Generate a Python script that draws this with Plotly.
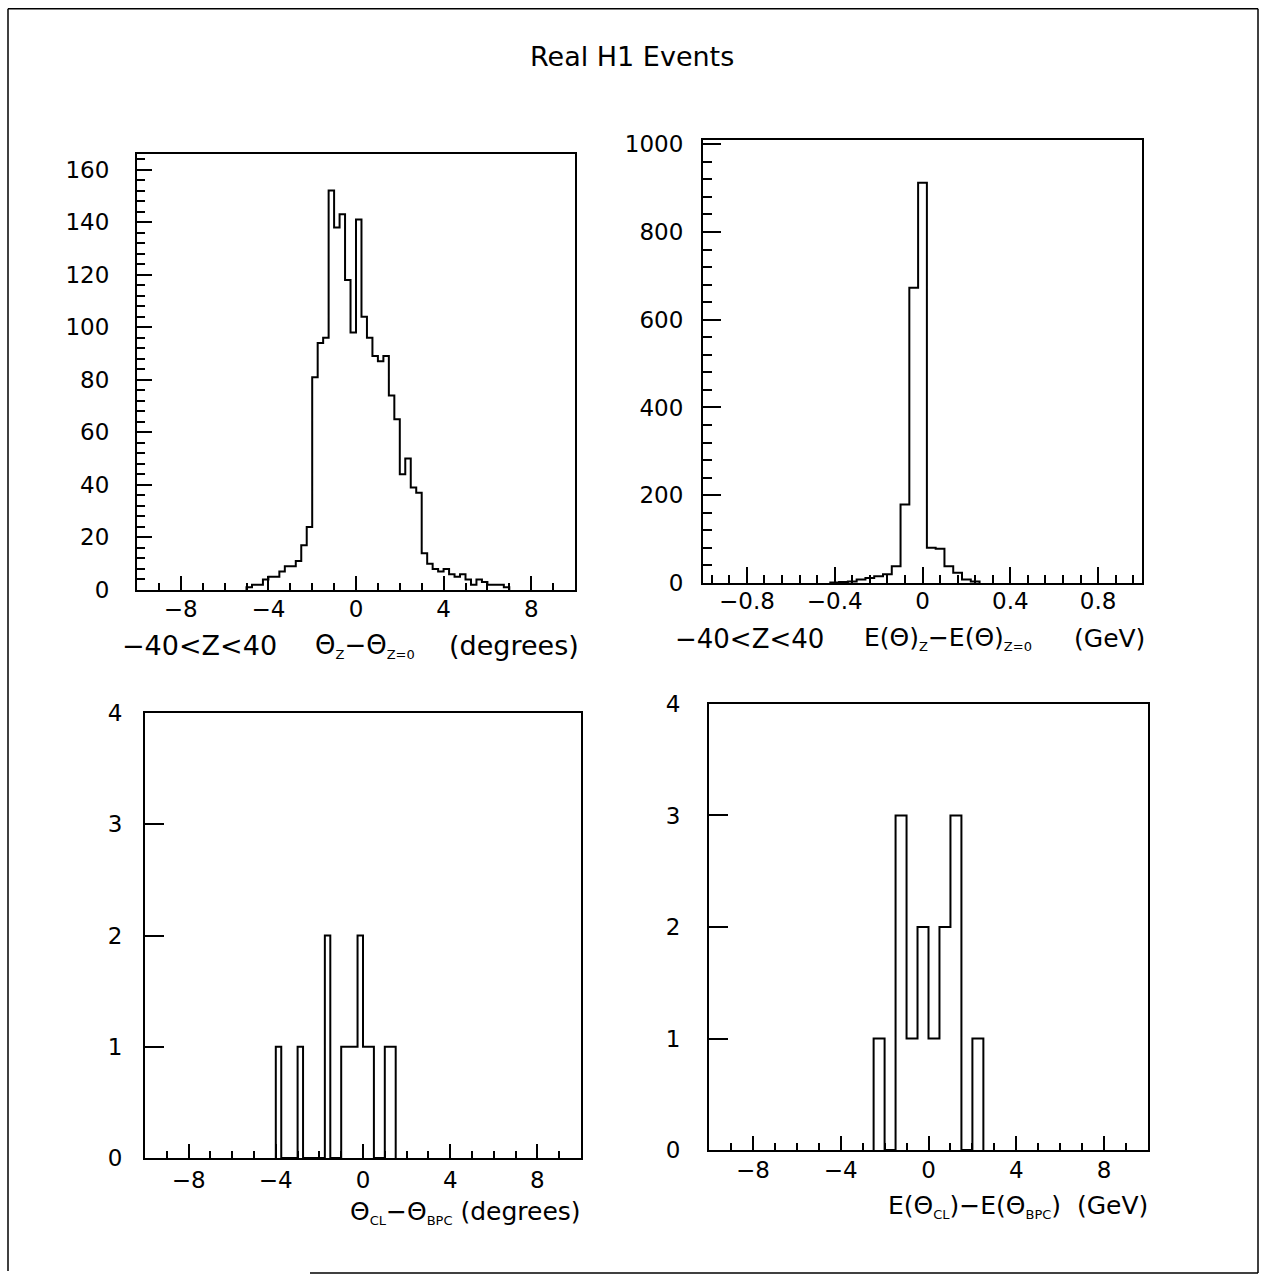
import plotly.graph_objects as go

W, H = 1266, 1277

# ---------------- data ----------------
# Top-left: theta_z - theta_z0 (degrees), bin width 0.25 starting at -5.0
tl_start, tl_width = -5.0, 0.25
tl_counts = [1, 2, 2, 4, 5, 5, 7, 9, 9, 11, 17, 24,
             81, 94, 96, 152, 138, 143, 118, 98, 141, 104, 96, 89,
             87, 89, 74, 65, 44, 50, 39, 37, 14, 10, 8, 7,
             8, 6, 5, 6, 4, 2, 4, 3, 2, 2, 2, 1]

# Top-right: E(theta)_z - E(theta)_z0 (GeV), bin width 0.04 starting at -0.42
tr_start, tr_width = -0.42, 0.04
tr_counts = [1, 2, 3, 8, 11, 15, 20, 38, 179, 673, 912, 80, 78, 38, 23, 8, 3]

# Bottom-left: theta_CL - theta_BPC (degrees), bin width 0.25 starting at -4.0
bl_start, bl_width = -4.0, 0.25
bl_counts = [1, 0, 0, 0, 1, 0, 0, 0, 0, 2, 0, 0, 1, 1, 1, 2, 1, 1, 0, 0, 1, 1]

# Bottom-right: E(theta_CL) - E(theta_BPC) (GeV), bin width 0.5 starting at -2.5
br_start, br_width = -2.5, 0.5
br_counts = [1, 0, 3, 1, 2, 1, 2, 3, 0, 1]

title_text = "Real H1 Events"
tl_ticks = [0, 20, 40, 60, 80, 100, 120, 140, 160]
tr_ticks = [0, 200, 400, 600, 800, 1000]
b_ticks = [0, 1, 2, 3, 4]

FONT = "DejaVu Sans"


def step_xy(start, width, counts):
    edges = [start + i * width for i in range(len(counts) + 1)]
    xs = [edges[0]] + edges
    ys = [0] + list(counts) + [0]
    return xs, ys


def px(xp):
    return xp / W


# vertical placement calibrated against the rendered page
VA, VB = 12.2, 0.9794


def py(yp):
    return 1 - ((yp - VA) / VB) / H


fig = go.Figure()

panels = [
    ("", step_xy(tl_start, tl_width, tl_counts)),
    ("2", step_xy(tr_start, tr_width, tr_counts)),
    ("3", step_xy(bl_start, bl_width, bl_counts)),
    ("4", step_xy(br_start, br_width, br_counts)),
]

for name, (xs, ys) in panels:
    fig.add_trace(go.Scatter(x=xs, y=ys, mode="lines", line_shape="hv",
                             line=dict(color="black", width=2),
                             xaxis="x" + name, yaxis="y" + name,
                             showlegend=False, hoverinfo="skip"))

tickfont = dict(family=FONT, size=23, color="black")
common = dict(showline=True, linecolor="black", linewidth=2, mirror=True,
              ticks="inside", tickcolor="black", tickwidth=1.5,
              showgrid=False, zeroline=False, tickfont=tickfont)


def minor(dt, ln):
    return dict(dtick=dt, tick0=0, ticklen=ln, ticks="inside",
                tickcolor="black", tickwidth=1.5, showgrid=False)


layout = dict(width=W, height=H, margin=dict(l=0, r=0, t=0, b=0),
              paper_bgcolor="white", plot_bgcolor="white", showlegend=False)

# top-left
layout["xaxis"] = dict(common, domain=[px(137), px(575)], range=[-10, 10],
                       anchor="y", tickmode="array", tickvals=[-8, -4, 0, 4, 8],
                       ticklen=14, ticklabelstandoff=-3, minor=minor(1, 7))
layout["yaxis"] = dict(common, domain=[py(589), py(153)], range=[0, 166],
                       anchor="x", tickmode="array", tickvals=tl_ticks,
                       ticklen=15, ticklabelstandoff=21, minor=minor(4, 8))
# top-right
layout["xaxis2"] = dict(common, domain=[px(703), px(1142)], range=[-1, 1],
                        anchor="y2", tickmode="array", tickvals=[-0.8, -0.4, 0, 0.4, 0.8],
                        ticktext=["\u22120.8", "\u22120.4", "0", "0.4", "0.8"],
                        ticklen=16, ticklabelstandoff=-4, minor=minor(0.08, 8))
layout["yaxis2"] = dict(common, domain=[py(582), py(139)], range=[0, 1010],
                        anchor="x2", tickmode="array", tickvals=tr_ticks,
                        ticklen=18, ticklabelstandoff=13, minor=minor(40, 9))
# bottom-left
layout["xaxis3"] = dict(common, domain=[px(145), px(581)], range=[-10, 10],
                        anchor="y3", tickmode="array", tickvals=[-8, -4, 0, 4, 8],
                        ticklen=14, ticklabelstandoff=0, minor=minor(1, 7))
layout["yaxis3"] = dict(common, domain=[py(1157), py(712)], range=[0, 4],
                        anchor="x3", tickmode="array", tickvals=b_ticks,
                        ticklen=19, ticklabelstandoff=16)
# bottom-right
layout["xaxis4"] = dict(common, domain=[px(709), px(1148)], range=[-10, 10],
                        anchor="y4", tickmode="array", tickvals=[-8, -4, 0, 4, 8],
                        ticklen=14, ticklabelstandoff=-2, minor=minor(1, 7))
layout["yaxis4"] = dict(common, domain=[py(1149), py(703)], range=[0, 4],
                        anchor="x4", tickmode="array", tickvals=b_ticks,
                        ticklen=19, ticklabelstandoff=22)

fig.update_layout(**layout)


def sub(s):
    return "<sub><span style='font-size:13px'>" + s + "</span></sub>"


annots = [
    (title_text, 632, 56, 27),
    ("\u221240<Z<40", 199, 645, 27),
    ("\u0398" + sub("Z") + "\u2212\u0398" + sub("Z=0"), 365, 645, 26),
    ("(degrees)", 514, 645, 27),
    ("\u221240<Z<40", 749, 638, 26),
    ("E(\u0398)" + sub("Z") + "\u2212E(\u0398)" + sub("Z=0"), 948, 638, 25),
    ("(GeV)", 1109, 638, 25),
    ("\u0398" + sub("CL") + "\u2212\u0398" + sub("BPC") + " (degrees)", 465, 1211, 25),
    ("E(\u0398" + sub("CL") + ")\u2212E(\u0398" + sub("BPC") + ")  (GeV)", 1018, 1205, 25),
]
for text, x, y, size in annots:
    fig.add_annotation(text=text, x=px(x), y=py(y), xref="paper", yref="paper",
                       showarrow=False, xanchor="center", yanchor="middle",
                       font=dict(family=FONT, size=size, color="black"))

# outer page frame
frame = [(8, 8, 8, 1270), (8, 8, 1258, 8), (1258, 8, 1258, 1272), (310, 1272, 1258, 1272)]
for x0, y0, x1, y1 in frame:
    fig.add_shape(type="line", xref="paper", yref="paper",
                  x0=px(x0), y0=py(y0), x1=px(x1), y1=py(y1),
                  line=dict(color="black", width=1.5))

fig.write_html("out.html")
